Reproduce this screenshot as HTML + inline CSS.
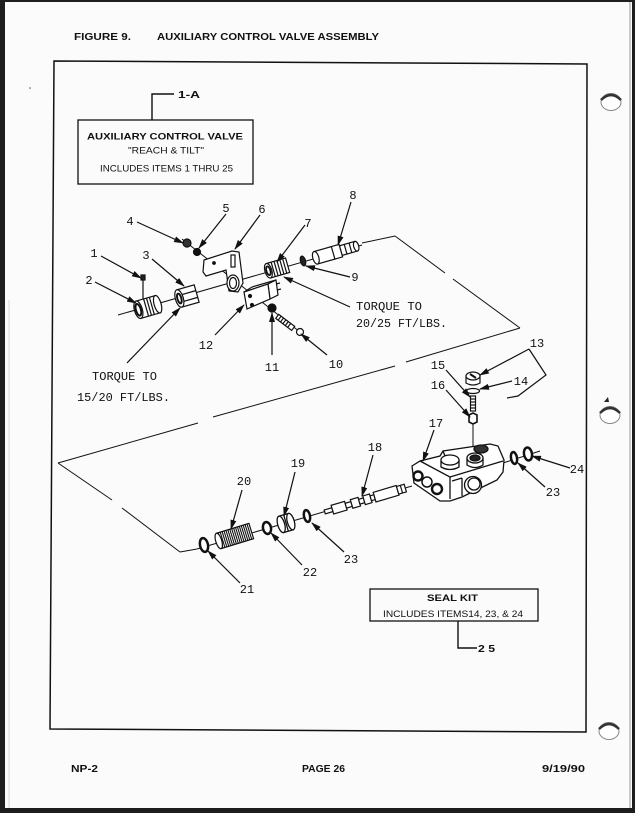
<!DOCTYPE html>
<html><head><meta charset="utf-8"><style>
html,body{margin:0;padding:0;background:#1e1e1e;}
body{width:635px;height:813px;overflow:hidden;}
svg{display:block;}
.m{font-family:"Liberation Mono","DejaVu Sans Mono",monospace;font-size:12px;fill:#111;}
.b{font-family:"Liberation Sans",Arial,sans-serif;font-weight:bold;fill:#111;}
.r{font-family:"Liberation Sans",Arial,sans-serif;fill:#111;}
</style></head><body>
<svg width="635" height="813" viewBox="0 0 635 813" xmlns="http://www.w3.org/2000/svg">
<defs>
<marker id="a" markerUnits="userSpaceOnUse" markerWidth="10" markerHeight="6" refX="9" refY="3" orient="auto">
<path d="M0,0 L10,3 L0,6 z" fill="#111"/>
</marker>
</defs>
<rect x="0" y="0" width="635" height="813" fill="#1e1e1e"/>
<rect x="5" y="2" width="627" height="806" fill="#fbfbfb"/>
<line x1="630" y1="2" x2="630" y2="808" stroke="#9a9a9a" stroke-width="1"/>
<line x1="9" y1="300" x2="9" y2="808" stroke="#d8d8d8" stroke-width="1"/>

<!-- header -->
<text class="b" x="74" y="40" font-size="10" textLength="57" lengthAdjust="spacingAndGlyphs">FIGURE 9.</text>
<text class="b" x="157" y="40" font-size="10" textLength="222" lengthAdjust="spacingAndGlyphs">AUXILIARY CONTROL VALVE ASSEMBLY</text>
<circle cx="30" cy="88" r="0.8" fill="#555"/>

<!-- frame -->
<polygon points="54,61 587,64 586,732 50,729" fill="none" stroke="#111" stroke-width="1.5"/>

<!-- punch holes -->
<g fill="#fff" stroke="#888" stroke-width="1">
<ellipse cx="611" cy="102" rx="10" ry="8.5"/>
<ellipse cx="610" cy="415" rx="10" ry="8.5"/>
<ellipse cx="609" cy="731" rx="10" ry="8.5"/>
</g>
<g fill="none" stroke="#333" stroke-width="2.5">
<path d="M601,100 Q611,90 621,100"/>
<path d="M600,413 Q610,403 620,413"/>
<path d="M599,729 Q609,719 619,729"/>
</g>
<path d="M604,402 L608,397 L609,402 z" fill="#222"/>

<!-- 1-A box -->
<polyline points="152,120 152,94 174,94" fill="none" stroke="#111" stroke-width="1.4"/>
<text class="b" x="178" y="98" font-size="10" textLength="22" lengthAdjust="spacingAndGlyphs">1-A</text>
<rect x="78" y="120" width="175" height="64" fill="none" stroke="#111" stroke-width="1.3"/>
<text class="b" x="87" y="139.5" font-size="9.5" textLength="156" lengthAdjust="spacingAndGlyphs">AUXILIARY CONTROL VALVE</text>
<text class="r" x="128" y="153.5" font-size="9" textLength="76" lengthAdjust="spacingAndGlyphs">"REACH &amp; TILT"</text>
<text class="r" x="100" y="171.5" font-size="9" textLength="133" lengthAdjust="spacingAndGlyphs">INCLUDES ITEMS 1 THRU 25</text>

<!-- dashed outline lines -->
<g stroke="#111" stroke-width="1" fill="none">
<line x1="362" y1="243" x2="395" y2="236"/>
<line x1="395" y1="236" x2="445" y2="273"/>
<line x1="453" y1="279" x2="520" y2="328"/>
<line x1="520" y1="328" x2="406" y2="362"/>
<line x1="395" y1="366" x2="213" y2="417"/>
<line x1="198" y1="423" x2="58" y2="463"/>
<line x1="58" y1="463" x2="112" y2="500"/>
<line x1="122" y1="508" x2="180" y2="552"/>
<line x1="180" y1="552" x2="197" y2="549"/>
<!-- axis lines -->
<line x1="118" y1="315" x2="362" y2="245"/>
<line x1="182" y1="239" x2="300" y2="332"/>
<line x1="197" y1="549" x2="412" y2="486"/>
<line x1="503" y1="463" x2="540" y2="451"/>
<line x1="473" y1="420" x2="473" y2="450"/>
</g>

<!-- upper parts -->
<g stroke="#111" stroke-width="1.2" fill="#fff">
<!-- item 1 pin -->
<line x1="143" y1="279" x2="143" y2="299"/>
<rect x="141" y="275" width="4" height="5" fill="#222"/>
<!-- item 2 -->
<g transform="translate(148,307) rotate(-16)">
<rect x="-10" y="-9" width="20" height="18"/>
<ellipse cx="10" cy="0" rx="3.5" ry="9"/>
<line x1="-2" y1="-9" x2="-2" y2="9"/><line x1="1" y1="-9" x2="1" y2="9"/><line x1="4" y1="-9" x2="4" y2="9"/>
<ellipse cx="-10" cy="0" rx="4" ry="9"/>
<ellipse cx="-10" cy="0" rx="2.5" ry="6" stroke-width="2"/>
</g>
<!-- item 3 -->
<g transform="translate(188,296) rotate(-16)">
<rect x="-9" y="-9" width="18" height="18"/>
<line x1="-9" y1="-3" x2="9" y2="-3"/><line x1="-9" y1="4" x2="9" y2="4"/>
<ellipse cx="-9" cy="0" rx="4" ry="9"/>
<ellipse cx="-9" cy="0" rx="2" ry="5" stroke-width="2"/>
</g>
<!-- item 4, 5 -->
<circle cx="187" cy="243" r="4" fill="#333"/>
<circle cx="197" cy="252" r="3.5" fill="#111"/>
<!-- item 6 bracket -->
<polygon points="204,260 232,251 239,252 243,283 238,292 229,291 226,270 206,276 203,272"/>
<rect x="231" y="255" width="4" height="12" fill="none"/>
<ellipse cx="233" cy="283" rx="6" ry="8"/>
<ellipse cx="233" cy="283" rx="3.5" ry="5.5"/>
<circle cx="214" cy="263" r="1.3" fill="#111"/>
<!-- item 7 -->
<g transform="translate(278,268) rotate(-16)">
<rect x="-10" y="-7.5" width="20" height="15"/>
<line x1="-5" y1="-7.5" x2="-5" y2="7.5"/><line x1="-2" y1="-7.5" x2="-2" y2="7.5"/><line x1="1" y1="-7.5" x2="1" y2="7.5"/><line x1="4" y1="-7.5" x2="4" y2="7.5"/><line x1="7" y1="-7.5" x2="7" y2="7.5"/>
<ellipse cx="-10" cy="0" rx="3.5" ry="7.5"/>
<ellipse cx="-10" cy="0" rx="2" ry="4.5" stroke-width="1.8"/>
</g>
<!-- item 9 -->
<ellipse cx="303" cy="261" rx="2.5" ry="5" fill="#222" transform="rotate(-16 303 261)"/>
<!-- item 8 -->
<g transform="translate(336,252) rotate(-16)">
<rect x="5" y="-5" width="16" height="10"/>
<ellipse cx="21" cy="0" rx="2.5" ry="5"/>
<line x1="10" y1="-5" x2="10" y2="5"/><line x1="15" y1="-5" x2="15" y2="5"/>
<rect x="-4" y="-6.5" width="9" height="13"/>
<rect x="-21" y="-6.5" width="18" height="13"/>
<ellipse cx="-21" cy="0" rx="3" ry="6.5"/>
</g>
<!-- item 12 switch -->
<polygon points="244,292 252,287 276,280 268,284"/>
<polygon points="268,284 276,280 278,295 270,299"/>
<polygon points="244,292 268,284 270,299 247,309"/>
<circle cx="250" cy="296" r="1.5" fill="#111"/>
<circle cx="252" cy="305" r="1.5" fill="#111"/>
<line x1="276" y1="284" x2="280" y2="283"/><line x1="277" y1="290" x2="281" y2="289"/>
<!-- item 11 -->
<circle cx="272" cy="308" r="4" fill="#111"/>
<!-- item 10 -->
<g transform="translate(286,323) rotate(37)">
<rect x="-11" y="-2.5" width="20" height="5"/>
<line x1="-8" y1="-2.5" x2="-8" y2="2.5"/><line x1="-5" y1="-2.5" x2="-5" y2="2.5"/><line x1="-2" y1="-2.5" x2="-2" y2="2.5"/><line x1="1" y1="-2.5" x2="1" y2="2.5"/><line x1="4" y1="-2.5" x2="4" y2="2.5"/>
</g>
<circle cx="300" cy="332" r="3.5"/>
</g>

<!-- 13-16 -->
<g stroke="#111" stroke-width="1.2" fill="#fff">
<path d="M466,376 L466,383 Q473,387 480,383 L480,376 z"/>
<ellipse cx="473" cy="376" rx="7" ry="4"/>
<line x1="470" y1="374" x2="476" y2="378" stroke-width="2"/>
<ellipse cx="473" cy="391" rx="6.5" ry="2.5"/>
<rect x="470.5" y="396" width="5" height="15" fill="#fff"/>
<line x1="470.5" y1="399" x2="475.5" y2="399"/><line x1="470.5" y1="402" x2="475.5" y2="402"/><line x1="470.5" y1="405" x2="475.5" y2="405"/><line x1="470.5" y1="408" x2="475.5" y2="408"/>
<polygon points="469,415 473,413 477,415 477,422 473,424 469,422" stroke-width="1.6"/>
</g>

<!-- valve body 17 -->
<g stroke="#111" stroke-width="1.3" fill="#fff">
<polygon points="412,466 420,461 440,456 443,451 490,444 498,446 504,460 503,472 497,480 462,497 450,501 440,501 414,483"/>
<polyline points="420,461 450,477 450,499" fill="none"/>
<line x1="450" y1="477" x2="503" y2="461"/>
<line x1="443" y1="451" x2="445" y2="456"/>
<!-- bosses -->
<path d="M441,460 L441,467 Q450,472 459,467 L459,460"/>
<ellipse cx="450" cy="460" rx="9" ry="5"/>
<path d="M467,458 L467,465 Q475,470 483,465 L483,458"/>
<ellipse cx="475" cy="458" rx="8" ry="5"/>
<ellipse cx="475" cy="458" rx="5" ry="3" fill="#222"/>
<ellipse cx="481" cy="449" rx="7" ry="4" fill="#333"/>
<!-- port -->
<circle cx="473" cy="485" r="8.5"/>
<circle cx="474" cy="484" r="6"/>
<!-- front holes -->
<circle cx="418" cy="476" r="4.5" stroke-width="2.4"/>
<circle cx="427" cy="482" r="5" stroke-width="1.5"/>
<circle cx="437" cy="489" r="5" stroke-width="2.4"/>
<line x1="452" y1="481" x2="462" y2="478"/>
<line x1="462" y1="478" x2="462" y2="496"/>
</g>

<!-- spool 18 -->
<g transform="translate(365,500) rotate(-16.5)" stroke="#111" stroke-width="1.2" fill="#fff">
<rect x="-42" y="-2" width="8" height="4"/>
<rect x="-34" y="-4.5" width="14" height="9"/>
<rect x="-20" y="-2.5" width="6" height="5"/>
<rect x="-14" y="-4.5" width="8" height="9"/>
<rect x="-6" y="-2.5" width="5" height="5"/>
<rect x="-1" y="-4.5" width="7" height="9"/>
<rect x="6" y="-2.5" width="4" height="5"/>
<rect x="10" y="-5" width="24" height="10"/>
<rect x="34" y="-4" width="8" height="8"/>
<line x1="38" y1="-4" x2="38" y2="4"/>
</g>

<!-- right washers -->
<g stroke="#111" fill="#fff">
<ellipse cx="514" cy="458" rx="3" ry="6" stroke-width="2.5" transform="rotate(-10 514 458)"/>
<ellipse cx="528" cy="454" rx="4" ry="6.5" stroke-width="2.5" transform="rotate(-10 528 454)"/>
</g>

<!-- lower parts -->
<g stroke="#111" fill="#fff">
<ellipse cx="204" cy="545" rx="4" ry="7" stroke-width="2.5" transform="rotate(-12 204 545)"/>
<g transform="translate(235,536) rotate(-17)" stroke-width="1.2">
<rect x="-17" y="-8" width="34" height="16"/>
<path d="M-15,-8v16M-13,-8v16M-11,-8v16M-9,-8v16M-7,-8v16M-5,-8v16M-3,-8v16M-1,-8v16M1,-8v16M3,-8v16M5,-8v16M7,-8v16M9,-8v16M11,-8v16M13,-8v16M15,-8v16" stroke-width="1.1"/>
<ellipse cx="-17" cy="0" rx="3" ry="8"/>
</g>
<ellipse cx="267" cy="528" rx="4" ry="6" stroke-width="2.5" transform="rotate(-12 267 528)"/>
<g transform="translate(286,523) rotate(-16)" stroke-width="1.3">
<rect x="-5" y="-8.5" width="10" height="17"/>
<ellipse cx="5" cy="0" rx="3.5" ry="8.5"/>
<ellipse cx="-5" cy="0" rx="3.5" ry="8.5"/>
<line x1="0" y1="-8.5" x2="0" y2="8.5"/>
</g>
<ellipse cx="307" cy="516" rx="3" ry="6" stroke-width="2.5" transform="rotate(-12 307 516)"/>
</g>

<!-- leaders -->
<g stroke="#111" stroke-width="1.2" fill="none" marker-end="url(#a)">
<line x1="101" y1="256" x2="141" y2="278"/>
<line x1="95" y1="282" x2="136" y2="303"/>
<line x1="152" y1="259" x2="184" y2="286"/>
<line x1="127" y1="363" x2="180" y2="308"/>
<line x1="137" y1="222" x2="183" y2="243"/>
<line x1="226" y1="214" x2="199" y2="248"/>
<line x1="260" y1="215" x2="235" y2="249"/>
<line x1="305" y1="225" x2="277" y2="262"/>
<line x1="351" y1="202" x2="338" y2="245"/>
<line x1="350" y1="277" x2="306" y2="266"/>
<line x1="350" y1="307" x2="284" y2="277"/>
<line x1="215" y1="335" x2="244" y2="305"/>
<line x1="272" y1="355" x2="272" y2="313"/>
<line x1="327" y1="355" x2="301" y2="334"/>
<line x1="529" y1="349" x2="480" y2="375"/>
<line x1="512" y1="381" x2="480" y2="389"/>
<line x1="446" y1="370" x2="470" y2="397"/>
<line x1="446" y1="390" x2="470" y2="417"/>
<line x1="434" y1="430" x2="423" y2="461"/>
<line x1="373" y1="455" x2="362" y2="496"/>
<line x1="295" y1="472" x2="284" y2="516"/>
<line x1="242" y1="490" x2="231" y2="529"/>
<line x1="240" y1="583" x2="208" y2="551"/>
<line x1="302" y1="565" x2="271" y2="533"/>
<line x1="344" y1="552" x2="312" y2="523"/>
<line x1="545" y1="487" x2="518" y2="463"/>
<line x1="570" y1="468" x2="532" y2="456"/>
</g>
<polyline points="529,349 546,375 518,396 507,398" fill="none" stroke="#111" stroke-width="1.2"/>

<!-- labels -->
<g class="m" text-anchor="middle">
<text x="94" y="257">1</text>
<text x="89" y="284">2</text>
<text x="146" y="259">3</text>
<text x="130" y="225">4</text>
<text x="226" y="212">5</text>
<text x="262" y="213">6</text>
<text x="308" y="227">7</text>
<text x="353" y="199">8</text>
<text x="355" y="281">9</text>
<text x="336" y="368">10</text>
<text x="272" y="371">11</text>
<text x="206" y="349">12</text>
<text x="537" y="347">13</text>
<text x="521" y="385">14</text>
<text x="438" y="369">15</text>
<text x="438" y="389">16</text>
<text x="436" y="427">17</text>
<text x="375" y="451">18</text>
<text x="298" y="467">19</text>
<text x="244" y="485">20</text>
<text x="247" y="593">21</text>
<text x="310" y="576">22</text>
<text x="351" y="563">23</text>
<text x="553" y="496">23</text>
<text x="577" y="473">24</text>
</g>
<text class="m" x="92" y="380" textLength="65" lengthAdjust="spacingAndGlyphs">TORQUE TO</text>
<text class="m" x="77" y="401" textLength="93" lengthAdjust="spacingAndGlyphs">15/20 FT/LBS.</text>
<text class="m" x="356" y="310" textLength="66" lengthAdjust="spacingAndGlyphs">TORQUE TO</text>
<text class="m" x="356" y="327" textLength="91" lengthAdjust="spacingAndGlyphs">20/25 FT/LBS.</text>

<!-- seal kit -->
<rect x="370" y="589" width="168" height="32" fill="none" stroke="#111" stroke-width="1.3"/>
<text class="b" x="427" y="601" font-size="9.5" textLength="51" lengthAdjust="spacingAndGlyphs">SEAL KIT</text>
<text class="r" x="383" y="617" font-size="9.5" textLength="140" lengthAdjust="spacingAndGlyphs">INCLUDES ITEMS14, 23, &amp; 24</text>
<polyline points="458,621 458,648 477,648" fill="none" stroke="#111" stroke-width="1.4"/>
<text class="b" x="478" y="652" font-size="10" textLength="17" lengthAdjust="spacingAndGlyphs">2 5</text>

<!-- footer -->
<text class="b" x="71" y="772" font-size="10" textLength="27" lengthAdjust="spacingAndGlyphs">NP-2</text>
<text class="b" x="302" y="772" font-size="10" textLength="43" lengthAdjust="spacingAndGlyphs">PAGE 26</text>
<text class="b" x="542" y="772" font-size="10" textLength="43" lengthAdjust="spacingAndGlyphs">9/19/90</text>
</svg>
</body></html>
